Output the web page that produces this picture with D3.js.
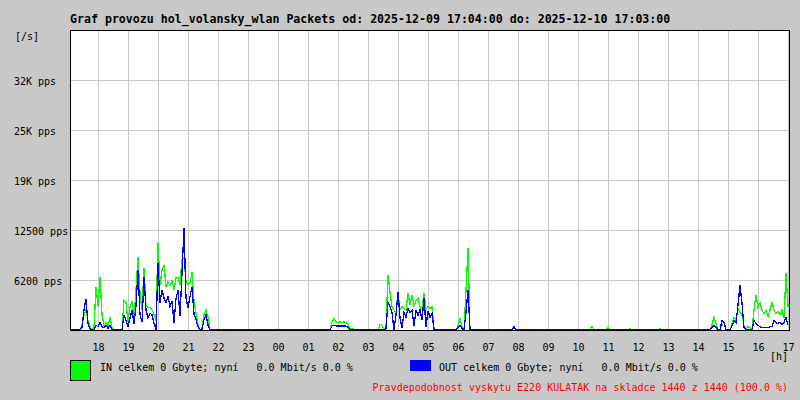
<!DOCTYPE html>
<html>
<head>
<meta charset="utf-8">
<script src="https://cdn.jsdelivr.net/npm/d3@7/dist/d3.min.js"></script>
<style>
  html, body { margin: 0; padding: 0; background: #c8c8c8; }
  svg { display: block; }
  text { font-family: "DejaVu Sans Mono", "Liberation Mono", monospace; }
</style>
</head>
<body>
<svg id="chart" width="800" height="400"></svg>
<script>
// ---------------- DATA ----------------
const titleText = "Graf provozu hol_volansky_wlan Packets od: 2025-12-09 17:04:00 do: 2025-12-10 17:03:00";
const startTime = new Date(2025, 11, 9, 17, 4, 0);
const endTime = new Date(2025, 11, 10, 17, 3, 0);
const stepMinutes = 4; // one sample every 4 minutes, starting at 17:04

// IN packets/s (green), rows: 17:04-17:56, then one row per hour 18..16, then 17:00
const inValues = [
  0,0,0,0,0,0,600,1900,2500,1200,400,0,300,5400,
  3000,6600,1900,600,900,400,1600,300,0,100,0,0,0,3700,3500,
  1000,2900,3500,1500,5000,9100,4500,2500,7700,3100,2800,2800,2500,2000,1200,
  10900,5600,7500,8100,5400,6000,5500,6200,5000,6500,6600,5600,8800,9100,6000,
  5700,5900,7200,3600,2100,600,0,200,1900,2500,1700,0,0,0,0,
  0,100,0,0,0,0,0,0,0,0,0,0,0,0,0,
  0,100,100,0,0,0,0,0,0,0,0,0,0,0,0,
  0,0,0,0,0,0,0,0,0,0,0,0,0,0,0,
  0,0,0,0,0,0,0,0,0,0,0,0,1000,1400,1000,
  900,1000,900,1000,900,700,100,200,100,0,0,100,100,0,0,
  0,0,0,0,0,0,700,600,0,300,6900,4700,2900,2500,2200,
  4800,2500,2900,2700,2500,4600,3100,4400,3000,3700,4000,2900,2500,4600,2600,
  2900,2700,2900,200,0,0,0,0,0,0,0,0,0,0,0,
  500,1500,400,0,5000,10200,0,0,0,0,0,0,0,0,0,
  0,0,0,0,0,0,0,0,0,0,0,0,0,500,0,
  0,0,0,0,0,0,0,0,0,0,0,0,0,0,0,
  0,0,0,0,0,0,0,0,0,0,0,0,0,0,0,
  0,0,0,0,0,0,0,500,0,0,0,0,0,0,0,
  300,0,0,0,0,0,0,0,0,0,0,200,0,0,0,
  0,0,0,0,0,0,0,0,0,0,0,200,0,0,0,
  0,0,0,0,0,0,0,0,0,0,0,0,0,0,0,
  0,0,0,0,0,0,0,600,1600,800,0,0,600,900,0,
  0,0,800,1600,1200,2700,2200,1900,500,200,400,300,0,2500,4400,
  2800,3400,2500,2000,2500,1700,2500,3500,2500,2000,2300,1900,2500,1500,7100,
  2900
];

// OUT packets/s (blue)
const outValues = [
  0,0,0,0,0,0,300,2500,3900,800,200,0,100,600,
  400,900,400,300,600,200,600,100,0,0,0,0,0,1900,1200,
  500,1500,2500,800,3000,7500,1900,1000,6600,2500,1500,2100,1900,800,0,
  8400,3400,5000,4000,3400,4200,2900,3600,900,3900,5000,1800,7100,12800,4000,
  2800,4200,5400,2000,1300,400,0,100,1300,1900,600,0,0,0,0,
  0,0,0,0,0,0,0,0,0,0,0,0,0,0,0,
  0,0,0,0,0,0,0,0,0,0,0,0,0,0,0,
  0,0,0,0,0,0,0,0,0,0,0,0,0,0,0,
  0,0,0,0,0,0,0,0,0,0,0,0,500,600,500,
  500,500,500,500,500,300,0,0,0,0,0,0,0,0,0,
  0,0,0,0,0,0,0,0,0,200,3400,2900,2200,0,1900,
  4700,1500,300,2200,1600,2700,2200,2500,500,2500,1800,2600,1200,4000,400,
  2400,1600,2100,100,0,0,0,0,0,0,0,100,100,0,0,
  300,600,200,0,2200,5000,0,0,0,0,0,0,0,0,0,
  0,0,0,0,0,0,0,0,0,0,0,0,0,400,0,
  0,0,0,0,0,0,0,0,0,0,0,0,0,0,0,
  0,0,0,0,0,0,0,0,0,0,0,0,0,0,0,
  0,0,0,0,0,0,0,100,0,0,0,0,0,0,0,
  0,0,0,0,0,0,0,0,0,0,0,0,0,0,0,
  0,0,0,0,0,0,0,0,0,0,0,0,0,0,0,
  0,0,0,0,0,0,0,0,0,0,0,0,0,0,0,
  0,0,0,0,0,0,0,300,600,300,0,0,1200,1000,0,
  0,0,500,1200,900,3100,5600,3400,300,0,0,0,0,1200,800,
  600,400,300,300,300,300,400,400,1200,900,800,1000,700,900,1600,
  600
];

const yMax = 37500;
const yTickValues = [6250, 12500, 18750, 25000, 31250];
const yTickLabels = ["6200 pps", "12500 pps", "19K pps", "25K pps", "32K pps"];
const yUnitLabel = "[/s]";
const xUnitLabel = "[h]";

const legendIn = "IN celkem 0 Gbyte; nyní   0.0 Mbit/s 0.0 %";
const legendOut = "OUT celkem 0 Gbyte; nyní   0.0 Mbit/s 0.0 %";
const footerText = "Pravdepodobnost vyskytu E220 KULATAK na skladce 1440 z 1440 (100.0 %)";

// ---------------- DRAW ----------------
const svg = d3.select("#chart");
const plot = { left: 70, top: 30, right: 790, bottom: 330 };

const x = d3.scaleTime()
  .domain([startTime, endTime])
  .range([plot.left, plot.left + 719.5]);
const y = d3.scaleLinear()
  .domain([0, yMax])
  .range([plot.bottom, plot.top]);

svg.append("rect").attr("x", 0).attr("y", 0).attr("width", 800).attr("height", 400).attr("fill", "#c8c8c8");
svg.append("rect")
  .attr("x", plot.left).attr("y", plot.top)
  .attr("width", plot.right - plot.left).attr("height", plot.bottom - plot.top)
  .attr("fill", "#ffffff");

// grid
const hourTicks = d3.timeHour.every(1).range(d3.timeHour.ceil(startTime), endTime);
const gridColor = "#c8c8c8";
svg.append("g").selectAll("line").data(hourTicks).join("line")
  .attr("x1", d => Math.round(x(d)) + 0.5).attr("x2", d => Math.round(x(d)) + 0.5)
  .attr("y1", plot.top).attr("y2", plot.bottom)
  .attr("stroke", gridColor).attr("stroke-width", 1).attr("shape-rendering", "crispEdges");
svg.append("g").selectAll("line").data(yTickValues).join("line")
  .attr("x1", plot.left).attr("x2", plot.right)
  .attr("y1", d => Math.round(y(d)) + 0.5).attr("y2", d => Math.round(y(d)) + 0.5)
  .attr("stroke", gridColor).attr("stroke-width", 1).attr("shape-rendering", "crispEdges");

// series
const times = inValues.map((_, i) => new Date(startTime.getTime() + i * stepMinutes * 60000));
const inData = inValues.map((v, i) => ({ t: times[i], v }));
const outData = outValues.map((v, i) => ({ t: times[i], v }));
const line = d3.line().x(d => x(d.t)).y(d => y(d.v));

svg.append("clipPath").attr("id", "clip").append("rect")
  .attr("x", plot.left).attr("y", plot.top)
  .attr("width", plot.right - plot.left).attr("height", plot.bottom - plot.top);

const series = svg.append("g").attr("clip-path", "url(#clip)");
series.append("path").datum(inData).attr("d", line)
  .attr("fill", "none").attr("stroke", "#00ff00").attr("stroke-width", 1.3)
  .attr("shape-rendering", "crispEdges");
series.append("path").datum(outData).attr("d", line)
  .attr("fill", "none").attr("stroke", "#0000ff").attr("stroke-width", 1.3)
  .attr("shape-rendering", "crispEdges");

// border
svg.append("rect")
  .attr("x", plot.left + 0.5).attr("y", plot.top + 0.5)
  .attr("width", plot.right - plot.left - 1).attr("height", plot.bottom - plot.top)
  .attr("fill", "none").attr("stroke", "#000").attr("stroke-width", 1)
  .attr("shape-rendering", "crispEdges");

// title
svg.append("text").attr("x", 70).attr("y", 23)
  .attr("font-size", "11.6px").attr("font-weight", "bold").attr("fill", "#000")
  .attr("xml:space", "preserve").text(titleText);

// y labels
svg.append("text").attr("x", 15).attr("y", 40).attr("font-size", "10px").attr("fill", "#000").text(yUnitLabel);
svg.append("g").selectAll("text").data(yTickValues).join("text")
  .attr("x", 14).attr("y", d => Math.round(y(d)) + 5)
  .attr("font-size", "10px").attr("fill", "#000")
  .text((d, i) => yTickLabels[i]);

// x labels
const fmtHour = d3.timeFormat("%H");
svg.append("g").selectAll("text").data(hourTicks).join("text")
  .attr("x", d => Math.round(x(d)) + 0.5).attr("y", 351)
  .attr("text-anchor", "middle").attr("font-size", "10px").attr("fill", "#000")
  .text(d => fmtHour(d));
svg.append("text").attr("x", 770).attr("y", 360).attr("font-size", "10px").attr("fill", "#000").text(xUnitLabel);

// legend
svg.append("rect").attr("x", 70.5).attr("y", 360.5).attr("width", 20).attr("height", 20)
  .attr("fill", "#00ff00").attr("stroke", "#000").attr("stroke-width", 1).attr("shape-rendering", "crispEdges");
svg.append("text").attr("x", 100).attr("y", 371).attr("font-size", "10px").attr("fill", "#000")
  .attr("xml:space", "preserve").style("white-space", "pre").text(legendIn);
svg.append("rect").attr("x", 410).attr("y", 360).attr("width", 21).attr("height", 11)
  .attr("fill", "#0000ff").attr("shape-rendering", "crispEdges");
svg.append("text").attr("x", 439).attr("y", 371).attr("font-size", "10px").attr("fill", "#000")
  .attr("xml:space", "preserve").style("white-space", "pre").text(legendOut);

// footer
svg.append("text").attr("x", 788).attr("y", 391).attr("text-anchor", "end")
  .attr("font-size", "10px").attr("fill", "#ff0000").text(footerText);
</script>
</body>
</html>
